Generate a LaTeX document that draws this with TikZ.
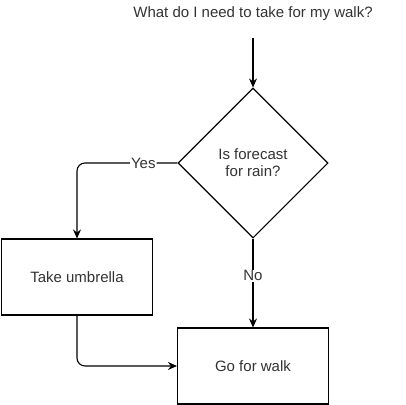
\documentclass[tikz,border=0pt]{standalone}
\usepackage{fontspec}
\setmainfont{Liberation Sans}
\usetikzlibrary{shapes,arrows.meta,positioning,calc}
\definecolor{inkgray}{HTML}{333333}
\tikzset{
block/.style = {draw, fill=white, rectangle, align = center, minimum width=151pt, minimum height=76pt, text=inkgray},
condition/.style = {draw, fill=white, diamond, align = center, minimum width=150pt, minimum height=150pt, inner sep=0pt, text=inkgray},
caption/.style = {fill=white, inner sep=1pt, text=inkgray, anchor=center},
}

\begin{document}
\begin{tikzpicture}[x=1pt, y=1pt, >={Stealth[length=9pt,width=8pt,inset=3pt]}, line width=1.1pt, font=\fontsize{15}{17}\selectfont]
      \useasboundingbox (0,0) rectangle (406,-404);
      \node [caption, name=title] at (253,-14) {What do I need to take for my walk?};
      \coordinate (start) at (253,-38);
      \node [condition, name=test] at (253,-163) {Is forecast\\for rain?};
      \node [block, name=umb] at (77,-277) {Take umbrella};
      \node [block, name=walk] at (253,-366) {Go for walk};
      \draw [->] (start) -- (test);
      \draw [->, rounded corners=8pt] (test.west) -| node [caption, pos=0.17] {Yes} (umb.north);
      \draw [->] (test) -- node [caption, pos=0.42] {No} (walk);
      \draw [->, rounded corners=8pt] (umb.south) |- (walk.west);
\end{tikzpicture}
\end{document}
